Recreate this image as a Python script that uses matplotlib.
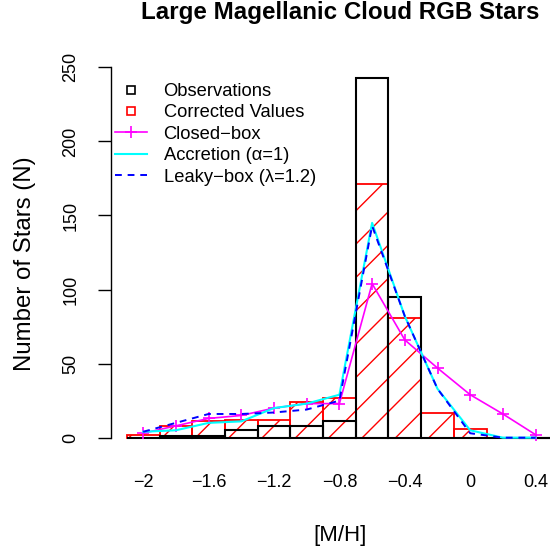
import numpy as np
import matplotlib
matplotlib.use("Agg")
import matplotlib.pyplot as plt
from matplotlib.lines import Line2D

plt.rcParams['font.family'] = ['Liberation Sans', 'DejaVu Sans']
plt.rcParams['hatch.linewidth'] = 1.0

# ---- data ----
bin_centers = [-2.0, -1.8, -1.6, -1.4, -1.2, -1.0, -0.8, -0.6, -0.4, -0.2, 0.0, 0.2, 0.4]
observations = [0, 1, 1, 5, 8, 8, 11, 243, 95, 0, 0, 0, 0]
corr_centers = [-2.0, -1.8, -1.6, -1.4, -1.2, -1.0, -0.8, -0.6, -0.4, -0.2, 0.0]
corrected = [2, 8, 11, 12, 12, 24, 27, 171, 81, 17, 6]
model_x = [-2.0, -1.8, -1.6, -1.4, -1.2, -1.0, -0.8, -0.6, -0.4, -0.2, 0.0, 0.2, 0.4]
closed_box = [3, 8, 13, 15, 20, 23, 23, 104, 66, 47, 29, 16, 2]
accretion = [4, 5, 10, 11, 20, 23, 29, 145, 82, 33, 5, 0, 0]
leaky_box = [4, 10, 16, 16, 17, 19, 25, 143, 82, 33, 3, 0, 0]
xticks = [-2.0, -1.6, -1.2, -0.8, -0.4, 0.0, 0.4]
xtick_labels = ['\u22122', '\u22121.6', '\u22121.2', '\u22120.8', '\u22120.4', '0', '0.4']
yticks = [0, 50, 100, 150, 200, 250]

W, H = 550, 549
fig = plt.figure(figsize=(W / 100, H / 100), dpi=100)
ax = fig.add_axes([110.5 / W, (H - 452.5) / H, 457.8 / W, 400 / H])
ax.set_xlim(-2.2, 0.6)
ax.set_ylim(-10, 260)

ax.bar(corr_centers, corrected, width=0.2, facecolor='none', edgecolor='red',
       hatch='/', linewidth=1.3, zorder=2)
ax.bar(bin_centers, observations, width=0.2, fill=False, edgecolor='black',
       linewidth=1.5, zorder=3)

ax.plot(model_x, closed_box, color='magenta', lw=1.2, marker='+', ms=8.5,
        mew=1.2, zorder=4)
ax.plot(model_x, accretion, color='cyan', lw=1.5, zorder=5)
ax.plot(model_x, leaky_box, color='blue', lw=1.4, ls=(0, (3.5, 3)), zorder=6)

for s in ['top', 'right', 'bottom']:
    ax.spines[s].set_visible(False)
ax.spines['left'].set_bounds(0, 250)
ax.spines['left'].set_linewidth(1.0)

ax.set_yticks(yticks)
ax.set_yticklabels([str(v) for v in yticks], rotation=90, va='center')
ax.tick_params(axis='y', length=13.3 * 0.72, width=1.0, pad=13, labelsize=13)
ax.set_xticks(xticks)
ax.set_xticklabels(xtick_labels)
ax.tick_params(axis='x', length=0, pad=15.5, labelsize=13)

fig.text(340 / W, 1 - 19.5 / H, 'Large Magellanic Cloud RGB Stars', ha='center',
         va='baseline', fontsize=17.4, fontweight='bold')
fig.text(340 / W, 1 - 535.5 / H, '[M/H]', ha='center', va='center', fontsize=16)
fig.text(25 / W, 1 - 264 / H, 'Number of Stars (N)', ha='center', va='center',
         rotation=90, fontsize=17.3)

handles = [
    Line2D([], [], ls='none', marker='s', mfc='none', mec='black', ms=6, mew=1.2),
    Line2D([], [], ls='none', marker='s', mfc='none', mec='red', ms=6, mew=1.2),
    Line2D([], [], color='magenta', lw=1.2, marker='+', ms=8.5, mew=1.2),
    Line2D([], [], color='cyan', lw=1.5),
    Line2D([], [], color='blue', lw=1.4, ls=(0, (3.5, 3))),
]
labels = ['Observations', 'Corrected Values', 'Closed\u2212box',
          'Accretion (\u03b1=1)', 'Leaky\u2212box (\u03bb=1.2)']
fig.legend(handles, labels, loc='upper left', bbox_to_anchor=(115 / W, 1 - 83 / H),
           frameon=False, borderpad=0, borderaxespad=0, labelspacing=0.24,
           handlelength=1.75, handletextpad=0.9, fontsize=13.2, numpoints=1)

fig.savefig('out.png', dpi=100)
